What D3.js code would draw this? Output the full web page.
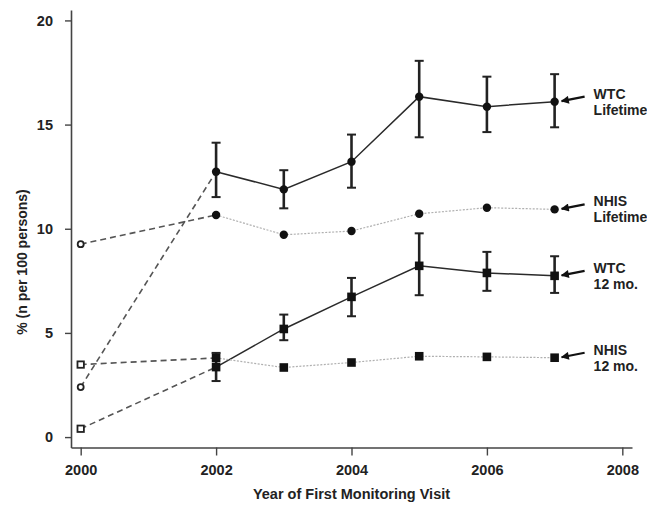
<!DOCTYPE html>
<html>
<head>
<meta charset="utf-8">
<script src="https://cdn.jsdelivr.net/npm/d3@7"></script>
<style>
  html, body { margin: 0; padding: 0; background: #fff; }
  svg { display: block; }
  text { font-family: "Liberation Sans", Arial, Helvetica, sans-serif; font-weight: bold; fill: #222; }
</style>
</head>
<body>
<script>
// Survey years with monitoring data (2002-2007) and the 2000 reference year
const years = [2002, 2003, 2004, 2005, 2006, 2007];
const baseYear = 2000;

// WTC responders, lifetime prevalence with 95% CI
const wtcLifetime   = [12.74, 11.89, 13.22, 16.34, 15.86, 16.10];
const wtcLifetimeLo = [11.52, 10.98, 11.97, 14.39, 14.64, 14.87];
const wtcLifetimeHi = [14.13, 12.81, 14.52, 18.06, 17.30, 17.42];

// NHIS general population, lifetime prevalence
const nhisLifetime = [10.66, 9.71, 9.89, 10.72, 11.01, 10.93];

// WTC responders, 12-month prevalence with 95% CI
const wtc12mo   = [3.36, 5.19, 6.73, 8.22, 7.88, 7.74];
const wtc12moLo = [2.69, 4.65, 5.80, 6.81, 7.02, 6.92];
const wtc12moHi = [4.04, 5.88, 7.64, 9.78, 8.89, 8.68];

// NHIS general population, 12-month prevalence
const nhis12mo = [3.80, 3.34, 3.58, 3.88, 3.85, 3.81];

// Year-2000 values (open markers, dashed connectors)
const base2000 = [2.40, 9.26, 0.40, 3.48]; // WTC lifetime, NHIS lifetime, WTC 12 mo., NHIS 12 mo.

const seriesLabels = [["WTC", "Lifetime"], ["NHIS", "Lifetime"], ["WTC", "12 mo."], ["NHIS", "12 mo."]];
const xTicks = [2000, 2002, 2004, 2006, 2008];
const yTicks = [0, 5, 10, 15, 20];
const xTitle = "Year of First Monitoring Visit";
const yTitle = "% (n per 100 persons)";

const W = 647, H = 513;
const svg = d3.select("body").append("svg").attr("width", W).attr("height", H);
svg.append("rect").attr("width", W).attr("height", H).attr("fill", "#fff");

const x = d3.scaleLinear().domain([1999.857, 2008.143]).range([71, 632]);
const y = d3.scaleLinear().domain([-0.5, 20.5]).range([447.5, 10]);

// Axes
const gx = svg.append("g").attr("transform", "translate(0,447.5)")
  .call(d3.axisBottom(x).tickValues(xTicks).tickFormat(d3.format("d")).tickSize(8).tickSizeOuter(0).tickPadding(9));
const gy = svg.append("g").attr("transform", "translate(71,0)")
  .call(d3.axisLeft(y).tickValues(yTicks).tickSize(6).tickSizeOuter(0).tickPadding(12));
[gx, gy].forEach(g => {
  g.select(".domain").attr("stroke", "#444").attr("stroke-width", 1.6);
  g.selectAll(".tick line").attr("stroke", "#444").attr("stroke-width", 1.4);
  g.selectAll(".tick text").attr("font-size", 14.5).attr("font-family", null).attr("fill", "#222");
});

svg.append("text").attr("x", 351.5).attr("y", 499).attr("text-anchor", "middle")
  .attr("font-size", 14.5).text(xTitle);
svg.append("text").attr("transform", "translate(27,262) rotate(-90)").attr("text-anchor", "middle")
  .attr("font-size", 14).text(yTitle);

const line = d3.line().x(d => x(d[0])).y(d => y(d[1]));
const pts = vals => years.map((yr, i) => [yr, vals[i]]);

const series = [
  { vals: wtcLifetime, lo: wtcLifetimeLo, hi: wtcLifetimeHi, solid: true, shape: "circle" },
  { vals: nhisLifetime, solid: false, shape: "circle" },
  { vals: wtc12mo, lo: wtc12moLo, hi: wtc12moHi, solid: true, shape: "square" },
  { vals: nhis12mo, solid: false, shape: "square" }
];

// Dashed connectors from 2000 to 2002
series.forEach((s, k) => {
  svg.append("path")
    .attr("d", line([[baseYear, base2000[k]], [years[0], s.vals[0]]]))
    .attr("fill", "none").attr("stroke", "#555").attr("stroke-width", 1.6)
    .attr("stroke-dasharray", "6,4");
});

// Trend lines
series.forEach(s => {
  svg.append("path").attr("d", line(pts(s.vals))).attr("fill", "none")
    .attr("stroke", s.solid ? "#2a2a2a" : "#b0b0b0")
    .attr("stroke-width", s.solid ? 1.5 : 1.2)
    .attr("stroke-dasharray", s.solid ? null : "2,1.5");
});

// Error bars
series.filter(s => s.lo).forEach(s => {
  const g = svg.append("g").attr("stroke", "#222");
  years.forEach((yr, i) => {
    const cx = x(yr);
    g.append("line").attr("x1", cx).attr("x2", cx).attr("y1", y(s.lo[i])).attr("y2", y(s.hi[i])).attr("stroke-width", 2.6);
    [s.lo[i], s.hi[i]].forEach(v => {
      g.append("line").attr("x1", cx - 4.5).attr("x2", cx + 4.5).attr("y1", y(v)).attr("y2", y(v)).attr("stroke-width", 2);
    });
  });
});

// Filled markers
series.forEach(s => {
  years.forEach((yr, i) => {
    const cx = x(yr), cy = y(s.vals[i]);
    if (s.shape === "circle") {
      svg.append("circle").attr("cx", cx).attr("cy", cy).attr("r", 4.2).attr("fill", "#111");
    } else {
      svg.append("rect").attr("x", cx - 4.3).attr("y", cy - 4.3).attr("width", 8.6).attr("height", 8.6).attr("fill", "#111");
    }
  });
});

// Open markers for 2000
series.forEach((s, k) => {
  const cx = x(baseYear), cy = y(base2000[k]);
  if (s.shape === "circle") {
    svg.append("circle").attr("cx", cx).attr("cy", cy).attr("r", 3).attr("fill", "#fff")
      .attr("stroke", "#222").attr("stroke-width", 1.8);
  } else {
    svg.append("rect").attr("x", cx - 3.2).attr("y", cy - 3.2).attr("width", 6.4).attr("height", 6.4)
      .attr("fill", "#fff").attr("stroke", "#222").attr("stroke-width", 1.8);
  }
});

// Series labels with arrows pointing at the last point
svg.append("defs").append("marker").attr("id", "arrowhead")
  .attr("viewBox", "0 0 10 10").attr("refX", 9).attr("refY", 5)
  .attr("markerWidth", 10).attr("markerHeight", 8).attr("markerUnits", "userSpaceOnUse")
  .attr("orient", "auto")
  .append("path").attr("d", "M0,0 L10,5 L0,10 Z").attr("fill", "#111");

const lastYear = years[years.length - 1];
series.forEach((s, k) => {
  const v = s.vals[s.vals.length - 1];
  const px = x(lastYear), py = y(v);
  svg.append("line").attr("x1", px + 30).attr("y1", py - 5).attr("x2", px + 7).attr("y2", py - 0.5)
    .attr("stroke", "#111").attr("stroke-width", 2.2).attr("marker-end", "url(#arrowhead)");
  const t = svg.append("text").attr("x", px + 39).attr("y", py - 3).attr("font-size", 14);
  t.append("tspan").attr("x", px + 39).text(seriesLabels[k][0]);
  t.append("tspan").attr("x", px + 39).attr("dy", 16).text(seriesLabels[k][1]);
});
</script>
</body>
</html>
